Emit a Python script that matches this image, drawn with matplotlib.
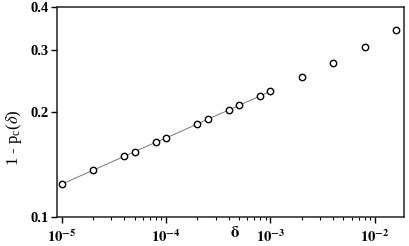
import matplotlib
matplotlib.use("Agg")
import matplotlib.pyplot as plt
from matplotlib.ticker import FixedLocator, FixedFormatter, LogLocator, NullLocator, NullFormatter

plt.rcParams['font.family'] = 'Liberation Serif'
plt.rcParams['mathtext.fontset'] = 'stix'

# data
delta = [1e-5, 2e-5, 4e-5, 5e-5, 8e-5, 1e-4, 2e-4, 2.5e-4, 4e-4, 5e-4, 8e-4, 1e-3,
         2e-3, 4e-3, 8e-3, 1.6e-2]
one_minus_pc = [0.1241, 0.1361, 0.1493, 0.1539, 0.1637, 0.1684, 0.1847, 0.1905,
                0.2026, 0.2089, 0.2222, 0.2290, 0.2514, 0.2768, 0.3076, 0.343]
n_fit = 12  # line drawn through the small-delta points only

yticks = [0.1, 0.2, 0.3, 0.4]
ytick_labels = ['0.1', '0.2', '0.3', '0.4']
xticks = [1e-5, 1e-4, 1e-3, 1e-2]
xtick_labels = [r'$\mathbf{10^{-5}}$', r'$\mathbf{10^{-4}}$', r'$\mathbf{10^{-3}}$', r'$\mathbf{10^{-2}}$']

fig = plt.figure(figsize=(4.09, 2.46), dpi=100)
ax = fig.add_axes([0.139, 0.118, 0.849, 0.854])

ax.plot(delta[:n_fit], one_minus_pc[:n_fit], color='#777777', lw=0.7, zorder=1)
ax.plot(delta, one_minus_pc, 'o', ms=4.6, mfc='white', mec='black', mew=1.0, ls='none', zorder=2)

ax.set_xscale('log')
ax.set_yscale('log')
ax.set_xlim(10**-5.045, 10**-1.72)
ax.set_ylim(0.1, 0.4)

ax.xaxis.set_major_locator(FixedLocator(xticks))
ax.xaxis.set_major_formatter(FixedFormatter(xtick_labels))
ax.xaxis.set_minor_locator(LogLocator(base=10, subs=range(2, 10)))
ax.xaxis.set_minor_formatter(NullFormatter())
ax.yaxis.set_major_locator(FixedLocator(yticks))
ax.yaxis.set_major_formatter(FixedFormatter(ytick_labels))
ax.yaxis.set_minor_locator(NullLocator())

for s in ax.spines.values():
    s.set_linewidth(1.1)
    s.set_color('#222222')

ax.tick_params(which='major', direction='out', length=4, width=1.0, labelsize=10.5, pad=2)
ax.tick_params(which='minor', direction='out', length=2.2, width=0.8)
ax.tick_params(axis='x', which='major', pad=4)
for lab in ax.get_yticklabels():
    lab.set_fontweight('bold')

ax.text(0.513, -0.075, r'$\mathbf{\delta}$', transform=ax.transAxes, ha='center', va='center', fontsize=12)
fig.text(0.035, 0.44, r'1 - p$_\mathregular{c}$($\delta$)', rotation=90, ha='center', va='center', fontsize=12)

fig.savefig('out.png', dpi=100)
